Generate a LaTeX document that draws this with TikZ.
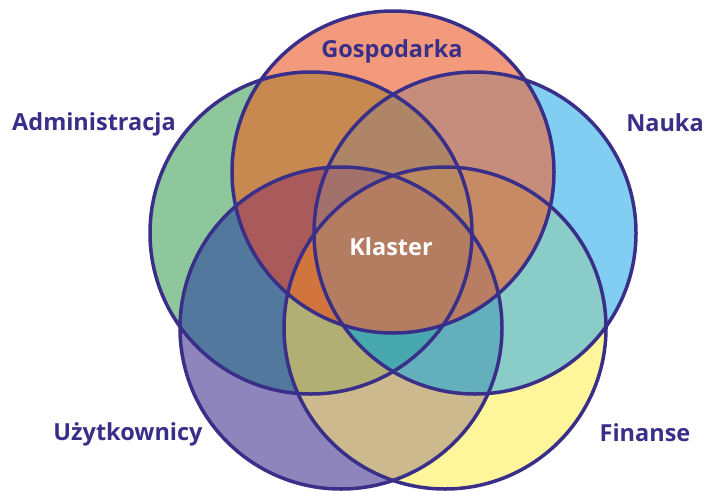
\documentclass[tikz,border=0pt]{standalone}
\usepackage{fontspec}
\setmainfont{Open Sans}
\definecolor{ink}{RGB}{57,47,137}
\definecolor{cG}{HTML}{F29A7B}
\definecolor{cA}{HTML}{8EC79B}
\definecolor{cN}{HTML}{82CEF3}
\definecolor{cU}{HTML}{8F85BD}
\definecolor{cF}{HTML}{FFF59B}
\definecolor{cGA}{HTML}{C88950}
\definecolor{cGN}{HTML}{C68C7C}
\definecolor{cAU}{HTML}{53789D}
\definecolor{cNF}{HTML}{8ACCC7}
\definecolor{cUF}{HTML}{CCB98D}
\definecolor{cGAN}{HTML}{AF8568}
\definecolor{cAUF}{HTML}{B1AF74}
\definecolor{cNFU}{HTML}{63B0BC}
\definecolor{cGAU}{HTML}{AA5A5A}
\definecolor{cGNF}{HTML}{C88A64}
\definecolor{cANUF}{HTML}{48A8AF}
\definecolor{cGAUF}{HTML}{D2743E}
\definecolor{cGNFU}{HTML}{B97D64}
\definecolor{cGANU}{HTML}{A3716C}
\definecolor{cGANF}{HTML}{BA8960}
\definecolor{cAll}{HTML}{B47D62}
\begin{document}
\begin{tikzpicture}[x=1pt,y=-1pt]
\useasboundingbox (0,0) rectangle (706,490);
\coordinate (g) at (393,172);
\coordinate (a) at (311,233);
\coordinate (n) at (475,233);
\coordinate (u) at (341,328);
\coordinate (f) at (445,328);
% every region: clip to its circles, fill; bigger sets come later
\foreach \set/\col in {{g}/cG,{a}/cA,{n}/cN,{u}/cU,{f}/cF,
  {g,a}/cGA,{g,n}/cGN,{a,u}/cAU,{n,f}/cNF,{u,f}/cUF,
  {g,a,n}/cGAN,{a,u,f}/cAUF,{n,f,u}/cNFU,{g,a,u}/cGAU,{g,n,f}/cGNF,
  {a,n,u,f}/cANUF,{g,a,u,f}/cGAUF,{g,n,f,u}/cGNFU,{g,a,n,u}/cGANU,{g,a,n,f}/cGANF,
  {g,a,n,u,f}/cAll}{
  \begin{scope}
  \foreach \c in \set {\clip (\c) circle (161);}
  \fill[\col] (0,0) rectangle (706,490);
  \end{scope}
}
\begin{scope}[draw=ink, line width=3.5]
\foreach \c in {g,a,n,u,f} \draw (\c) circle (161);
\end{scope}
\begin{scope}[font=\fontsize{23.5}{28}\selectfont\bfseries, text=ink]
\node[anchor=base] (gosp) at (392,57) {Gospodarka};
\node[anchor=base] (admin) at (94,130) {Administracja};
\node[anchor=base] (nauka) at (665,131) {Nauka};
\node[anchor=base] (uzyt) at (128,440) {Użytkownicy};
\node[anchor=base] (fin) at (645,441) {Finanse};
\node[anchor=base, text=white] (klaster) at (391,255) {Klaster};
\end{scope}
\end{tikzpicture}
\end{document}
